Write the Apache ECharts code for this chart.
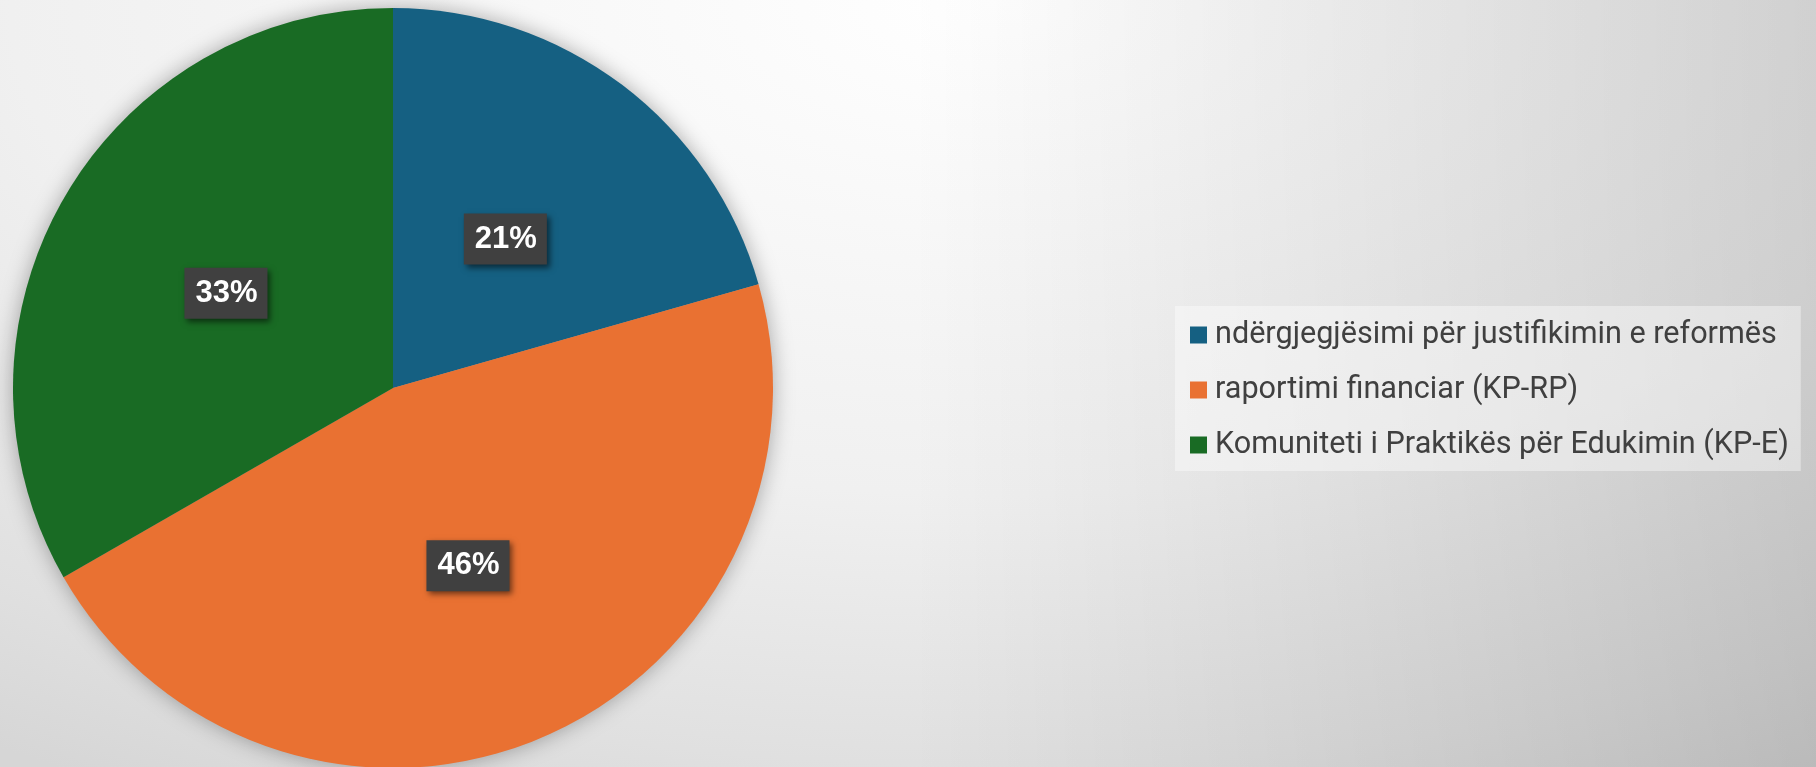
<!DOCTYPE html>
<html>
<head>
<meta charset="utf-8">
<script src="https://cdn.jsdelivr.net/npm/echarts@6/dist/echarts.min.js"></script>
<style>
html,body{margin:0;padding:0;width:1816px;height:767px;overflow:hidden;}
#bg{position:absolute;left:0;top:0;width:1816px;height:767px;
background:
 linear-gradient(to right, rgba(0,0,0,0) 50%, rgba(0,0,0,0.14) 100%),
 radial-gradient(ellipse 1800px 900px at 1000px 0px, #ffffff 0%, #f0f0f0 55%, #e0e0e0 85%, #d6d6d6 100%);}
#chart{position:absolute;left:0;top:0;width:1816px;height:767px;}
</style>
</head>
<body>
<div id="bg"></div>
<div id="chart"></div>
<script>
const categories = [
  "ndërgjegjësimi për justifikimin e reformës",
  "raportimi financiar (KP-RP)",
  "Komuniteti i Praktikës për Edukimin (KP-E)"
];
const values = [20.6, 46.1, 33.3];
const colors = ["#156082", "#E97132", "#196B24"];
const labelOffsets = [[-4, 5], [0, 0], [0, 2]];

const chart = echarts.init(document.getElementById('chart'), null, {renderer: 'canvas'});
const data = categories.map((c, i) => ({
  name: c, value: values[i],
  itemStyle: {color: colors[i]},
  label: {offset: labelOffsets[i]}
}));

chart.setOption({
  backgroundColor: 'transparent',
  animation: false,
  legend: {
    orient: 'vertical',
    left: 1175,
    top: 306,
    padding: [12, 12, 9, 15],
    backgroundColor: 'rgba(255,255,255,0.4)',
    itemWidth: 17,
    itemHeight: 17,
    itemGap: 21,
    icon: 'rect',
    selectedMode: false,
    data: categories,
    textStyle: {
      fontFamily: 'Roboto',
      fontSize: 30.6,
      color: '#404040',
      lineHeight: 34,
      padding: [0, 0, 0, 3]
    }
  },
  series: [
    {
      type: 'pie',
      silent: true,
      center: [393, 388],
      radius: [0, 379],
      startAngle: 90,
      label: {show: false},
      labelLine: {show: false},
      data: [{value: 1, name: '_shadow', itemStyle: {color: '#999999', shadowBlur: 22, shadowColor: 'rgba(0,0,0,0.35)'}}],
      legendHoverLink: false
    },
    {
      type: 'pie',
      center: [393, 388],
      radius: [0, 380],
      startAngle: 90,
      clockwise: true,
      itemStyle: {borderWidth: 0},
      label: {
        show: true,
        position: 'inside',
        formatter: function (p) { return Math.round(p.percent) + '%'; },
        color: '#ffffff',
        fontFamily: 'Liberation Sans',
        fontWeight: 'bold',
        fontSize: 31,
        backgroundColor: '#404040',
        padding: [10, 10, 10, 11],
        shadowBlur: 6,
        shadowOffsetX: 3,
        shadowOffsetY: 3,
        shadowColor: 'rgba(0,0,0,0.55)'
      },
      labelLine: {show: false},
      emphasis: {disabled: true},
      data: data
    }
  ]
});
</script>
</body>
</html>
